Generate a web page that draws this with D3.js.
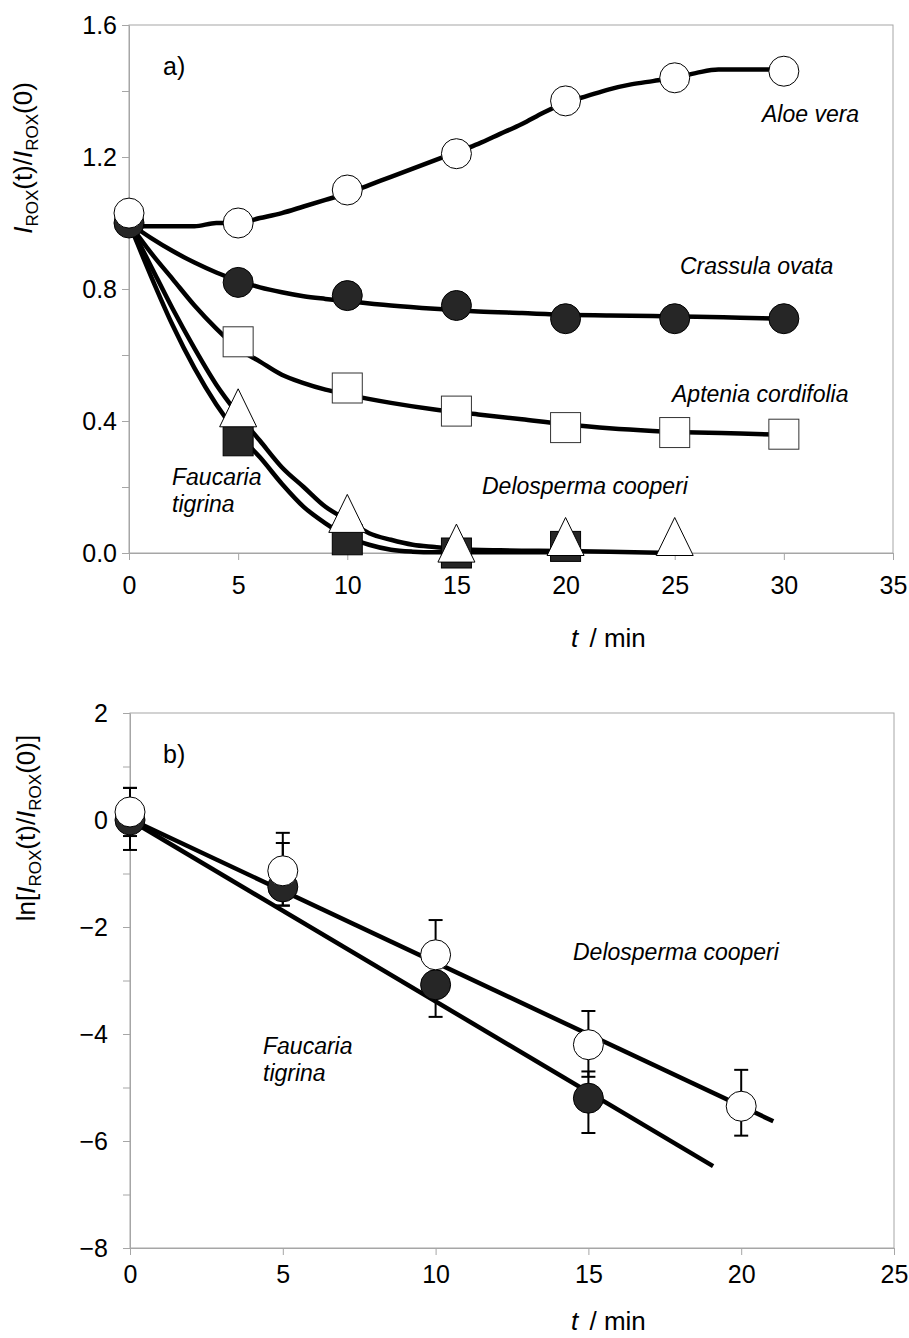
<!DOCTYPE html>
<html>
<head>
<meta charset="utf-8">
<script src="https://cdn.jsdelivr.net/npm/d3@7"></script>
<style>
body { margin: 0; background: #fff; }
svg { display: block; font-family: Arial, "Liberation Sans", sans-serif; }
.axis path, .axis line { stroke: #a6a6a6; }
.axis text { font-size: 25px; fill: #000; font-family: Arial, "Liberation Sans", sans-serif; }
.species { font-size: 23px; font-style: italic; }
.panel { font-size: 25px; }
.title { font-size: 26px; }
</style>
</head>
<body>
<svg id="chart" width="909" height="1338"></svg>
<script>
// ---- Panel a) : I_ROX(t)/I_ROX(0) vs time ----
const markerTimes = [0, 5, 10, 15, 20, 25, 30];
const aloeVera = [1.03, 1.00, 1.10, 1.21, 1.37, 1.44, 1.46];
const crassulaOvata = [1.00, 0.82, 0.78, 0.75, 0.71, 0.71, 0.71];
const apteniaTimes = [5, 10, 15, 20, 25, 30];
const apteniaCordifolia = [0.64, 0.50, 0.43, 0.38, 0.365, 0.36];
const delospermaTimes = [5, 10, 15, 20, 25];
const delospermaCooperi = [0.44, 0.12, 0.03, 0.05, 0.05];
const faucariaTimes = [5, 10, 15, 20];
const faucariaTigrina = [0.34, 0.04, 0.0, 0.02];

// smoothed curves drawn through the points
const aloeFitT = d3.range(0, 31);
const aloeFit = [0.99, 0.99, 0.99, 0.99, 1.00, 1.00, 1.015, 1.03, 1.05, 1.07, 1.09, 1.115, 1.14, 1.165, 1.19, 1.215,
  1.24, 1.27, 1.30, 1.335, 1.365, 1.385, 1.405, 1.42, 1.43, 1.44, 1.455, 1.465, 1.465, 1.465, 1.465];
const crassulaFitT = [0, 1, 2, 3, 4, 5, 6, 7, 8, 9, 10, 12, 14, 16, 18, 20, 22, 24, 26, 28, 30];
const crassulaFit = [1.0, 0.955, 0.915, 0.88, 0.85, 0.825, 0.805, 0.79, 0.778, 0.77, 0.763, 0.75, 0.74, 0.732,
  0.727, 0.722, 0.72, 0.718, 0.716, 0.713, 0.71];
const apteniaFitT = [0, 1, 2, 3, 4, 5, 6, 7, 8, 9, 10, 12, 14, 16, 18, 20, 22, 24, 26, 28, 30];
const apteniaFit = [1.0, 0.91, 0.83, 0.75, 0.68, 0.62, 0.58, 0.54, 0.515, 0.495, 0.48, 0.455, 0.435, 0.42,
  0.405, 0.39, 0.378, 0.37, 0.365, 0.362, 0.358];
const delospermaFitT = [0, 1, 2, 3, 4, 5, 6, 7, 8, 9, 10, 11, 12, 13, 14, 15, 17, 20, 22, 25];
const delospermaFit = [1.0, 0.87, 0.74, 0.62, 0.51, 0.42, 0.34, 0.26, 0.2, 0.14, 0.1, 0.06, 0.04, 0.025, 0.018,
  0.012, 0.008, 0.006, 0.004, 0.0];
const faucariaFitT = [0, 1, 2, 3, 4, 5, 6, 7, 8, 9, 10, 11, 12, 13, 14, 15, 20];
const faucariaFit = [1.0, 0.84, 0.69, 0.56, 0.45, 0.36, 0.29, 0.21, 0.14, 0.09, 0.05, 0.025, 0.01, 0.004, 0.002,
  0.002, 0.002];

// ---- Panel b) : ln of the ratio with error bars ----
const lnTimesBlack = [0, 5, 10, 15];
const lnFaucaria = [0.0, -1.25, -3.08, -5.2];
const lnFaucariaErrUp = [0.6, 0.82, 0.6, 0.5];
const lnFaucariaErrDown = [0.56, 0.35, 0.6, 0.65];
const lnTimesWhite = [0, 5, 10, 15, 20];
const lnDelosperma = [0.15, -0.95, -2.52, -4.2, -5.35];
const lnDelospermaErrUp = [0.45, 0.71, 0.65, 0.63, 0.68];
const lnDelospermaErrDown = [0.45, 0.65, 0.6, 0.6, 0.55];
const lnFaucariaFitT = [0, 19.08];
const lnFaucariaFit = [0.0, -6.47];
const lnDelospermaFitT = [0, 21.05];
const lnDelospermaFit = [0.02, -5.63];

const xTicksA = [0, 5, 10, 15, 20, 25, 30, 35];
const yTicksA = d3.range(0, 9).map(i => +(i * 0.2).toFixed(1));
const xTicksB = [0, 5, 10, 15, 20, 25];
const yTicksB = d3.range(-8, 3);

const svg = d3.select('#chart');
const gray = '#a6a6a6';
const dark = '#262626';

const zip = (ts, vs) => ts.map((t, i) => ({ t: t, v: vs[i] }));

// generic frame + axes
function drawFrame(x, y, xTicks, yTicks, yMajor, yFmt, xPad, yPad) {
  const [x0, x1] = x.range();
  const [y0, y1] = y.range();
  svg.append('rect')
    .attr('x', x0).attr('y', y1)
    .attr('width', x1 - x0).attr('height', y0 - y1)
    .attr('fill', 'none').attr('stroke', gray);

  svg.append('g')
    .attr('class', 'axis')
    .attr('transform', `translate(0,${y0})`)
    .call(d3.axisBottom(x).tickValues(xTicks).tickSize(7).tickSizeOuter(0).tickPadding(xPad));

  svg.append('g')
    .attr('class', 'axis')
    .attr('transform', `translate(${x0},0)`)
    .call(d3.axisLeft(y).tickValues(yTicks).tickSize(7).tickSizeOuter(0).tickPadding(yPad)
      .tickFormat(d => yMajor(d) ? yFmt(d) : ''));
}

function curve(x, y, ts, vs) {
  svg.append('path')
    .datum(zip(ts, vs))
    .attr('fill', 'none')
    .attr('stroke', '#000')
    .attr('stroke-width', 4.5)
    .attr('stroke-linejoin', 'round')
    .attr('d', d3.line().x(d => x(d.t)).y(d => y(d.v)).curve(d3.curveMonotoneX));
}

function circles(x, y, ts, vs, fill) {
  svg.append('g').selectAll('circle')
    .data(zip(ts, vs))
    .join('circle')
    .attr('cx', d => x(d.t)).attr('cy', d => y(d.v))
    .attr('r', 15)
    .attr('fill', fill).attr('stroke', '#000').attr('stroke-width', 1);
}

function squares(x, y, ts, vs, fill) {
  svg.append('g').selectAll('rect')
    .data(zip(ts, vs))
    .join('rect')
    .attr('x', d => x(d.t) - 15).attr('y', d => y(d.v) - 15)
    .attr('width', 30).attr('height', 30)
    .attr('fill', fill).attr('stroke', fill === '#fff' ? '#333' : '#000').attr('stroke-width', 1);
}

function triangles(x, y, ts, vs) {
  svg.append('g').selectAll('path')
    .data(zip(ts, vs))
    .join('path')
    .attr('d', d => {
      const cx = x(d.t), cy = y(d.v);
      return `M${cx},${cy - 19}L${cx + 18.5},${cy + 19}L${cx - 18.5},${cy + 19}Z`;
    })
    .attr('fill', '#fff').attr('stroke', '#000').attr('stroke-width', 1);
}

function errorBars(x, y, ts, vs, up, down) {
  const g = svg.append('g').attr('stroke', '#000').attr('stroke-width', 2);
  ts.forEach((t, i) => {
    const cx = x(t), top = y(vs[i] + up[i]), bot = y(vs[i] - down[i]);
    g.append('line').attr('x1', cx).attr('x2', cx).attr('y1', top).attr('y2', bot);
    g.append('line').attr('x1', cx - 7).attr('x2', cx + 7).attr('y1', top).attr('y2', top);
    g.append('line').attr('x1', cx - 7).attr('x2', cx + 7).attr('y1', bot).attr('y2', bot);
  });
}

function yTitle(cx, cy, withLn) {
  const t = svg.append('text')
    .attr('class', 'title')
    .attr('text-anchor', 'middle')
    .attr('transform', `translate(${cx},${cy}) rotate(-90)`);
  if (withLn) t.append('tspan').text('ln[');
  t.append('tspan').attr('font-style', 'italic').text('I');
  t.append('tspan').attr('font-size', 17).attr('dy', 6).text('ROX');
  t.append('tspan').attr('dy', -6).text('(t)/');
  t.append('tspan').attr('font-style', 'italic').text('I');
  t.append('tspan').attr('font-size', 17).attr('dy', 6).text('ROX');
  t.append('tspan').attr('dy', -6).text(withLn ? '(0)]' : '(0)');
}

function xTitle(x0, base) {
  const t = svg.append('text').attr('class', 'title').attr('x', x0).attr('y', base);
  t.append('tspan').attr('font-style', 'italic').text('t');
  t.append('tspan').attr('dx', 4).text(' / min');
}

function label(x0, base, lines) {
  const t = svg.append('text').attr('class', 'species');
  lines.forEach((s, i) => {
    t.append('tspan').attr('x', x0).attr('y', base + i * 27).text(s);
  });
}

// ---------- panel a ----------
const xA = d3.scaleLinear().domain([0, 35]).range([129, 893]);
const yA = d3.scaleLinear().domain([0, 1.6]).range([553, 25]);
drawFrame(xA, yA, xTicksA, yTicksA, d => Math.round(d * 10) % 4 === 0, d3.format('.1f'), 16, 5);

curve(xA, yA, faucariaFitT, faucariaFit);
curve(xA, yA, delospermaFitT, delospermaFit);
curve(xA, yA, apteniaFitT, apteniaFit);
curve(xA, yA, crassulaFitT, crassulaFit);
curve(xA, yA, aloeFitT, aloeFit);

squares(xA, yA, faucariaTimes, faucariaTigrina, dark);
triangles(xA, yA, delospermaTimes, delospermaCooperi);
squares(xA, yA, apteniaTimes, apteniaCordifolia, '#fff');
circles(xA, yA, markerTimes, crassulaOvata, dark);
circles(xA, yA, markerTimes, aloeVera, '#fff');

svg.append('text').attr('class', 'panel').attr('x', 163).attr('y', 75).text('a)');
label(762, 122, ['Aloe vera']);
label(680, 274, ['Crassula ovata']);
label(672, 402, ['Aptenia cordifolia']);
label(482, 494, ['Delosperma cooperi']);
label(172, 485, ['Faucaria', 'tigrina']);
yTitle(32, 158, false);
xTitle(571, 647);

// ---------- panel b ----------
const xB = d3.scaleLinear().domain([0, 25]).range([130, 894]);
const yB = d3.scaleLinear().domain([-8, 2]).range([1248, 713]);
drawFrame(xB, yB, xTicksB, yTicksB, d => d % 2 === 0, d3.format('d'), 10, 15);

curve(xB, yB, lnFaucariaFitT, lnFaucariaFit);
curve(xB, yB, lnDelospermaFitT, lnDelospermaFit);
errorBars(xB, yB, lnTimesBlack, lnFaucaria, lnFaucariaErrUp, lnFaucariaErrDown);
errorBars(xB, yB, lnTimesWhite, lnDelosperma, lnDelospermaErrUp, lnDelospermaErrDown);
circles(xB, yB, lnTimesBlack, lnFaucaria, dark);
circles(xB, yB, lnTimesWhite, lnDelosperma, '#fff');

svg.append('text').attr('class', 'panel').attr('x', 163).attr('y', 763).text('b)');
label(573, 960, ['Delosperma cooperi']);
label(263, 1054, ['Faucaria', 'tigrina']);
yTitle(35, 828, true);
xTitle(571, 1330);
</script>
</body>
</html>
